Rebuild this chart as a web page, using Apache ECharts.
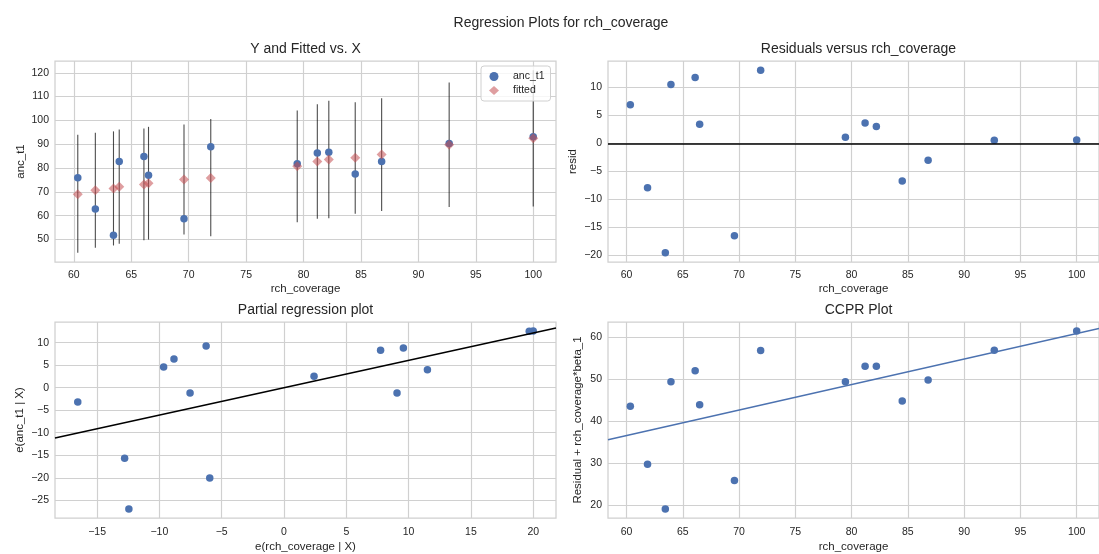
<!DOCTYPE html>
<html><head><meta charset="utf-8">
<script src="https://cdn.jsdelivr.net/npm/echarts@6/dist/echarts.min.js"></script>
<style>html,body{margin:0;padding:0;background:#fff}#c{width:1099px;height:554px}</style>
</head><body><div id="c"></div>
<script>
// ---- data ----
const rchCoverage = [60.34, 61.87, 63.45, 63.95, 66.1, 66.5, 69.59, 71.92, 79.45, 81.2, 82.2, 84.5, 86.8, 92.68, 100.0];
const ancT1      = [75.9, 62.8, 51.8, 82.7, 84.8, 77.0, 58.7, 88.9, 81.8, 86.3, 86.6, 77.5, 82.7, 90.3, 93.1];
const fitted     = [69.0, 70.7, 71.4, 72.2, 73.1, 73.6, 75.2, 75.8, 80.8, 82.7, 83.6, 84.3, 85.7, 89.8, 92.5];
const predLower  = [44.4, 46.5, 47.5, 48.2, 49.7, 50.0, 52.1, 51.4, 57.2, 58.7, 58.9, 60.8, 62.0, 63.7, 63.9];
const predUpper  = [94.0, 94.8, 95.4, 96.2, 96.6, 97.3, 98.3, 100.6, 104.2, 106.8, 108.3, 107.6, 109.3, 115.9, 121.1];
const resid      = [6.86, -7.93, -19.56, 10.49, 11.75, 3.4, -16.5, 13.06, 1.07, 3.64, 2.98, -6.74, -3.04, 0.54, 0.6];
const partialX   = [-16.55, -12.79, -12.45, -9.66, -8.83, -7.54, -6.25, -5.96, 2.41, 7.75, 9.07, 9.58, 11.51, 19.68, 20.0];
const partialY   = [-3.19, -15.65, -26.96, 4.57, 6.38, -1.16, 9.28, -20.07, 2.54, 8.33, -1.16, 8.84, 3.99, 12.54, 12.61];
const ccprY      = [43.5, 29.7, 19.0, 49.3, 51.9, 43.8, 25.8, 56.75, 49.3, 53.0, 53.0, 44.7, 49.7, 56.8, 61.4];
const beta1 = 0.608;

const covTicks     = [60, 65, 70, 75, 80, 85, 90, 95, 100];
const fitYTicks    = [50, 60, 70, 80, 90, 100, 110, 120];
const residTicks   = [-20, -15, -10, -5, 0, 5, 10];
const partXTicks   = [-15, -10, -5, 0, 5, 10, 15, 20];
const partYTicks   = [-25, -20, -15, -10, -5, 0, 5, 10];
const ccprTicks    = [20, 30, 40, 50, 60];

// ---- styling ----
const FONT = 'Liberation Sans, Arial, Helvetica, sans-serif';
const TXT = '#262626';
const BLUE = '#4c72b0';
const GRIDC = '#d0d0d0';

function pad(arr) {
  const mn = Math.min(...arr), mx = Math.max(...arr), d = (mx - mn) * 0.05;
  return [mn - d, mx + d];
}
const covRange = pad(rchCoverage);
const fitYRange = pad(predLower.concat(predUpper, ancT1, fitted));
const residRange = pad(resid);
const partXRange = pad(partialX);
const partYRange = pad(partialY);
const ccprRange = pad(ccprY);

const fmt = v => String(v).replace('-', '\u2212');

function axis(dim, gridIndex, range, ticks, name, nameGap, margin) {
  return {
    type: 'value', gridIndex, min: range[0], max: range[1],
    name, nameLocation: 'middle', nameGap,
    nameTextStyle: { fontSize: 11.5, color: TXT, fontFamily: FONT },
    axisLine: { show: false },
    axisTick: { show: false, customValues: ticks },
    axisLabel: { customValues: ticks, formatter: fmt, fontSize: 10.5, color: TXT, fontFamily: FONT, margin },
    splitLine: { show: true, lineStyle: { color: GRIDC, width: 1.2 } }
  };
}

const grids = [
  { left: 55, top: 61, width: 501, height: 201 },
  { left: 608, top: 61, width: 501, height: 201 },
  { left: 55, top: 322, width: 501, height: 204 },
  { left: 608, top: 322, width: 501, height: 204 }
].map(g => Object.assign({ show: true, borderColor: GRIDC, borderWidth: 1.25, backgroundColor: '#fff' }, g));

const titleStyle = { fontSize: 14, fontWeight: 'normal', color: TXT, fontFamily: FONT };
const zip = (a, b) => a.map((v, i) => [v, b[i]]);

const option = {
  animation: false,
  backgroundColor: '#fff',
  title: [
    { text: 'Regression Plots for rch_coverage', left: 561, top: 16, textAlign: 'center', padding: 0, textStyle: titleStyle },
    { text: 'Y and Fitted vs. X', left: 305.5, top: 42, textAlign: 'center', padding: 0, textStyle: titleStyle },
    { text: 'Residuals versus rch_coverage', left: 858.5, top: 42, textAlign: 'center', padding: 0, textStyle: titleStyle },
    { text: 'Partial regression plot', left: 305.5, top: 303, textAlign: 'center', padding: 0, textStyle: titleStyle },
    { text: 'CCPR Plot', left: 858.5, top: 303, textAlign: 'center', padding: 0, textStyle: titleStyle }
  ],
  legend: {
    orient: 'vertical', left: 481, top: 66,
    padding: [5, 6, 5, 8], itemWidth: 10, itemHeight: 9, itemGap: 3,
    borderColor: GRIDC, borderWidth: 1, borderRadius: 3,
    backgroundColor: 'rgba(255,255,255,0.8)',
    textStyle: { fontSize: 10.5, color: TXT, fontFamily: FONT, padding: [0, 0, 0, 9] },
    data: [{ name: 'anc_t1', icon: 'circle' }, { name: 'fitted', icon: 'diamond' }]
  },
  grid: grids,
  xAxis: [
    axis('x', 0, covRange, covTicks, 'rch_coverage', 21, 8),
    axis('x', 1, covRange, covTicks, 'rch_coverage', 21, 8),
    axis('x', 2, partXRange, partXTicks, 'e(rch_coverage | X)', 23, 9),
    axis('x', 3, covRange, covTicks, 'rch_coverage', 23, 9)
  ],
  yAxis: [
    axis('y', 0, fitYRange, fitYTicks, 'anc_t1', 28, 6),
    axis('y', 1, residRange, residTicks, 'resid', 29, 6),
    axis('y', 2, partYRange, partYTicks, 'e(anc_t1 | X)', 29, 6),
    axis('y', 3, ccprRange, ccprTicks, 'Residual + rch_coverage*beta_1', 24, 6)
  ],
  series: [
    { name: 'interval', type: 'custom', xAxisIndex: 0, yAxisIndex: 0, z: 2,
      encode: { x: 0, y: [1, 2] },
      data: rchCoverage.map((x, i) => [x, predLower[i], predUpper[i]]),
      renderItem: (params, api) => {
        const p1 = api.coord([api.value(0), api.value(1)]);
        const p2 = api.coord([api.value(0), api.value(2)]);
        return { type: 'line', shape: { x1: p1[0], y1: p1[1], x2: p2[0], y2: p2[1] },
                 style: { stroke: 'rgba(0,0,0,0.7)', lineWidth: 1.1 } };
      } },
    { name: 'anc_t1', type: 'scatter', xAxisIndex: 0, yAxisIndex: 0, symbol: 'circle', symbolSize: 7.5,
      itemStyle: { color: BLUE, opacity: 1 }, data: zip(rchCoverage, ancT1), z: 3 },
    { name: 'fitted', type: 'scatter', xAxisIndex: 0, yAxisIndex: 0, symbol: 'diamond', symbolSize: 10,
      itemStyle: { color: 'rgba(196,78,82,0.55)', opacity: 1 }, data: zip(rchCoverage, fitted), z: 4 },
    { name: 'resid', type: 'scatter', xAxisIndex: 1, yAxisIndex: 1, symbolSize: 7.5,
      itemStyle: { color: BLUE, opacity: 1 }, data: zip(rchCoverage, resid),
      markLine: { silent: true, symbol: ['none', 'none'], label: { show: false },
                  lineStyle: { color: '#000', width: 1.5, type: 'solid', opacity: 1 }, data: [{ yAxis: 0 }] } },
    { name: 'partial', type: 'scatter', xAxisIndex: 2, yAxisIndex: 2, symbolSize: 7.5,
      itemStyle: { color: BLUE, opacity: 1 }, data: zip(partialX, partialY) },
    { name: 'partialFit', type: 'line', xAxisIndex: 2, yAxisIndex: 2, showSymbol: false, symbol: 'none',
      lineStyle: { color: '#000', width: 1.5 }, z: 3,
      data: partXRange.map(x => [x, beta1 * x]) },
    { name: 'ccpr', type: 'scatter', xAxisIndex: 3, yAxisIndex: 3, symbolSize: 7.5,
      itemStyle: { color: BLUE, opacity: 1 }, data: zip(rchCoverage, ccprY) },
    { name: 'ccprFit', type: 'line', xAxisIndex: 3, yAxisIndex: 3, showSymbol: false, symbol: 'none',
      lineStyle: { color: BLUE, width: 1.5 }, z: 3,
      data: covRange.map(x => [x, beta1 * x]) }
  ]
};
const chart = echarts.init(document.getElementById('c'), null, { renderer: 'canvas' });
chart.setOption(option);
</script>
</body></html>
